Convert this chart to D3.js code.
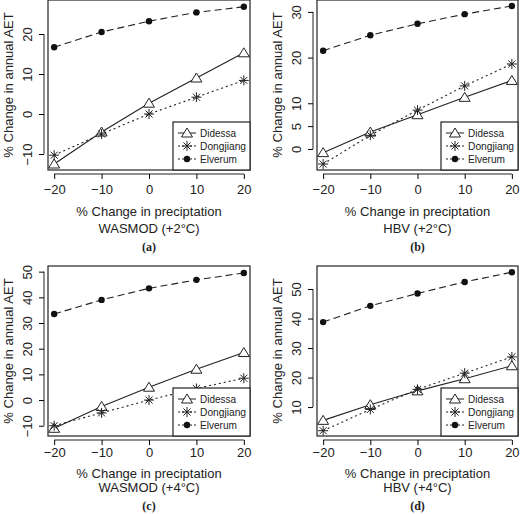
<!DOCTYPE html>
<html><head><meta charset="utf-8">
<script src="https://cdn.jsdelivr.net/npm/d3@7"></script>
<style>body{margin:0;background:#fff}text{font-family:"Liberation Sans",Arial,sans-serif;fill:#222}</style>
</head><body><div></div>
<script>
var width = 520, height = 514;
var precip = [-20, -10, 0, 10, 20];
var seriesNames = ["Didessa", "Dongjiang", "Elverum"];
var legendWidths = [36, 46, 37];

var aDidessa = [-12.5, -4.5, 2.7, 9.0, 15.3];
var aDongjiang = [-10.3, -5, 0, 4.2, 8.4];
var aElverum = [16.7, 20.5, 23.2, 25.4, 26.8];

var bDidessa = [-0.8, 3.7, 7.5, 11.3, 15.0];
var bDongjiang = [-3.3, 3.0, 8.5, 13.8, 18.6];
var bElverum = [21.5, 24.9, 27.4, 29.5, 31.3];

var cDidessa = [-11, -2.5, 5, 12, 18.5];
var cDongjiang = [-10, -5, 0, 4.5, 8.5];
var cElverum = [33.5, 39, 43.5, 46.8, 49.5];

var dDidessa = [5.5, 10.8, 15.5, 19.6, 24];
var dDongjiang = [2, 9.2, 16, 21.5, 27];
var dElverum = [38.8, 44.3, 48.5, 52.4, 55.7];

var xTicks = [-20, -10, 0, 10, 20];
var aTicks = [-10, 0, 10, 20];
var bTicks = [0, 5, 10, 20, 30];
var cTicks = [-10, 0, 10, 20, 30, 40, 50];
var dTicks = [10, 20, 30, 40, 50];

var panels = [
  {ox: 0, oy: 0, box: [48, 250, 0, 170], yDom: [-14, 28.5], ticks: aTicks, data: [aDidessa, aDongjiang, aElverum], title: "WASMOD (+2°C)", tag: "(a)", tx: [46, 63, 81]},
  {ox: 269, oy: 0, box: [48, 249, 0, 170], yDom: [-4.6, 32.6], ticks: bTicks, data: [bDidessa, bDongjiang, bElverum], title: "HBV (+2°C)", tag: "(b)", tx: [46, 63, 81]},
  {ox: 0, oy: 257, box: [48, 250, 9, 179], yDom: [-14, 52.2], ticks: cTicks, data: [cDidessa, cDongjiang, cElverum], title: "WASMOD (+4°C)", tag: "(c)", tx: [42, 56, 74]},
  {ox: 269, oy: 257, box: [48, 249, 9, 179], yDom: [0.2, 57.8], ticks: dTicks, data: [dDidessa, dDongjiang, dElverum], title: "HBV (+4°C)", tag: "(d)", tx: [42, 56, 74]}
];

var dashes = [null, "2,3", "7,4"];

var svg = d3.select("div").append("svg").attr("width", width).attr("height", height);

function symbol(g, k, x, y) {
  if (k == 0) {
    g.append("path").attr("d", "M" + x + "," + (y - 5) + "L" + (x + 5.5) + "," + (y + 4) + "L" + (x - 5.5) + "," + (y + 4) + "Z")
      .attr("fill", "#fff").attr("stroke", "#222").attr("stroke-width", 1);
  } else if (k == 1) {
    var s = 5;
    [0, 45, 90, 135].forEach(function(a) {
      var r = a * Math.PI / 180;
      g.append("line").attr("x1", x - s * Math.cos(r)).attr("y1", y - s * Math.sin(r))
        .attr("x2", x + s * Math.cos(r)).attr("y2", y + s * Math.sin(r))
        .attr("stroke", "#222").attr("stroke-width", 1);
    });
  } else {
    g.append("circle").attr("cx", x).attr("cy", y).attr("r", 3.2).attr("fill", "#111");
  }
}

panels.forEach(function(p) {
  var g = svg.append("g").attr("transform", "translate(" + p.ox + "," + p.oy + ")");
  var L = p.box[0], R = p.box[1], T = p.box[2], B = p.box[3];
  var x = d3.scaleLinear().domain([-21.3, 21.3]).range([L, R]);
  var y = d3.scaleLinear().domain(p.yDom).range([B, T]);

  g.append("g").attr("transform", "translate(0," + (B + 4) + ")")
    .call(d3.axisBottom(x).tickValues(xTicks).tickSize(5).tickSizeOuter(0))
    .call(function(a) {
      a.select(".domain").attr("d", "M" + x(-20) + ",0H" + x(20)).attr("stroke", "#222");
      a.selectAll("text").style("font-size", "13px").attr("dy", p.oy ? "0.7em" : "0.9em");
    });
  var ya = g.append("g").attr("transform", "translate(" + (L - 4) + ",0)")
    .call(d3.axisLeft(y).tickValues(p.ticks).tickSize(5).tickSizeOuter(0));
  ya.select(".domain").attr("d", "M0," + y(p.ticks[0]) + "V" + y(p.ticks[p.ticks.length - 1])).attr("stroke", "#222");
  ya.selectAll(".tick text").style("font-size", "13px").attr("x", 0).attr("dy", 0)
    .attr("text-anchor", "middle").attr("transform", "translate(-12,0) rotate(-90)");

  g.append("rect").attr("x", L).attr("y", T).attr("width", R - L).attr("height", B - T)
    .attr("fill", "none").attr("stroke", "#222").attr("stroke-width", 1.2);

  var line = d3.line().x(function(d, i) { return x(precip[i]); }).y(function(d) { return y(d); });
  p.data.forEach(function(s, k) {
    g.append("path").attr("d", line(s)).attr("fill", "none").attr("stroke", "#222")
      .attr("stroke-width", 1.1).attr("stroke-dasharray", dashes[k]);
    s.forEach(function(v, i) { symbol(g, k, x(precip[i]), y(v)); });
  });

  // legend
  var lg = g.append("g").attr("transform", "translate(" + (R - 77) + "," + (B - 48) + ")");
  lg.append("rect").attr("width", 77).attr("height", 48).attr("fill", "#fff").attr("stroke", "#222").attr("stroke-width", 1.2);
  seriesNames.forEach(function(n, k) {
    var yy = 11 + k * 13;
    lg.append("line").attr("x1", 5).attr("x2", 23).attr("y1", yy).attr("y2", yy)
      .attr("stroke", "#222").attr("stroke-dasharray", dashes[k] ? "2,2" : null);
    symbol(lg, k, 14, yy);
    lg.append("text").attr("x", 27).attr("y", yy + 4).style("font-size", "11px")
      .attr("textLength", legendWidths[k]).attr("lengthAdjust", "spacingAndGlyphs").text(n);
  });

  var cx = (L + R) / 2;
  g.append("text").attr("x", cx).attr("y", B + p.tx[0]).attr("text-anchor", "middle").style("font-size", "13px").text("% Change in preciptation");
  g.append("text").attr("x", cx).attr("y", B + p.tx[1]).attr("text-anchor", "middle").style("font-size", "13px").text(p.title);
  g.append("text").attr("x", cx).attr("y", B + p.tx[2]).attr("text-anchor", "middle")
    .style("font-family", "Liberation Serif, serif").style("font-weight", "bold").style("font-size", "12px").text(p.tag);
  g.append("text").attr("transform", "translate(" + (L - 35) + "," + ((T + B) / 2) + ") rotate(-90)")
    .attr("text-anchor", "middle").style("font-size", "13px").text("% Change in annual AET");
});
</script></body></html>
